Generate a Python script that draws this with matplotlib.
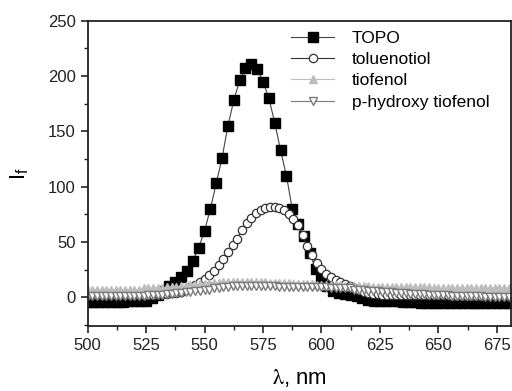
import matplotlib.pyplot as plt
from matplotlib.ticker import MultipleLocator

# emission wavelengths (nm)
wl_topo = [500, 502.5, 505, 507.5, 510, 512.5, 515, 517.5, 520, 522.5, 525,
           527.5, 530, 532.5, 535, 537.5, 540, 542.5, 545, 547.5,
           550, 552.5, 555, 557.5, 560, 562.5, 565, 567.5, 570,
           572.5, 575, 577.5, 580, 582.5, 585, 587.5, 590, 592.5,
           595, 597.5, 600, 602.5, 605, 607.5, 610, 612.5, 615,
           617.5, 620, 622.5, 625, 627.5, 630, 632.5, 635, 637.5, 640,
           642.5, 645, 647.5, 650, 652.5, 655, 657.5, 660, 662.5, 665,
           667.5, 670, 672.5, 675, 677.5, 680]
wl_fine = [500, 502, 504, 506, 508, 510, 512, 514, 516, 518, 520, 522, 524, 526, 528, 530,
           532, 534, 536, 538, 540, 542, 544, 546, 548, 550, 552, 554, 556, 558,
           560, 562, 564, 566, 568, 570, 572, 574, 576, 578, 580, 582, 584, 586, 588, 590,
           592, 594, 596, 598, 600, 602, 604, 606, 608, 610, 612, 614, 616, 618, 620,
           622, 624, 626, 628, 630,
           632, 634, 636, 638, 640, 642, 644, 646, 648, 650, 652, 654, 656, 658, 660,
           662, 664, 666, 668, 670, 672, 674, 676, 678, 680]

# fluorescence intensity, I_f
topo = [-4, -4, -4, -4, -4, -4, -4, -3.5, -3.5, -3, -3,
        -1, 2, 6, 10, 14, 18, 24, 33, 45,
        60, 80, 103, 126, 155, 178, 196, 207, 211,
        206, 195, 180, 158, 133, 110, 80, 66, 55,
        40, 26, 16, 10, 6, 4, 3, 2, 1,
        -1, -2, -3, -3.5, -3.5, -3.5, -3.5, -4, -4, -4.5,
        -5, -5, -5, -5, -5, -5, -5, -5, -5, -5, -5, -5, -5, -5, -5, -5]
toluenotiol = [2, 2, 2, 2, 2, 2, 2, 2, 2, 2, 2, 2, 2, 2, 2, 3,
               3, 3, 4, 4, 5, 7, 9, 11, 14, 17, 20, 24, 29, 35,
               41, 47, 53, 61, 67, 72, 76, 79, 81, 82, 82, 81, 79, 75, 71, 65,
               56, 46, 38, 31, 26, 21, 18, 16, 14, 12, 10, 8, 7, 5, 4,
               3, 3, 2, 2, 2,
               2, 2, 2, 2, 2, 2, 2, 2, 2, 2, 2, 2, 1, 1, 1, 1, 1, 1, 1, 1, 1, 1, 1, 1, 1]
tiofenol = [7, 7, 7, 7, 7, 7, 7, 7, 7, 7, 7, 7, 8, 8, 8, 8,
            8, 9, 9, 9, 10, 10, 11, 11, 12, 12, 13, 13, 13, 14,
            14, 14, 14, 14, 14, 14, 14, 14, 14, 13, 13, 13, 13, 13, 12, 12,
            12, 12, 12, 11, 11, 11, 11, 11, 11, 10, 10, 10, 10, 10, 10,
            9, 9, 9, 9, 9,
            9, 9, 9, 9, 9, 9, 9, 9, 8, 8, 8, 8, 8, 8, 8, 8, 8, 8, 8, 8, 8, 8, 8, 8, 8]
p_hydroxy = [1, 1, 1, 1, 1, 1, 1, 1, 1, 1, 1, 1, 1, 2, 2, 2,
             2, 3, 3, 4, 4, 5, 5, 6, 6, 7, 7, 8, 8, 9,
             9, 10, 10, 10, 10, 10, 10, 10, 10, 10, 10, 9, 9, 9, 9, 9,
             9, 9, 9, 9, 9, 9, 8, 8, 8, 8, 8, 7, 7, 7, 6,
             6, 6, 5, 5, 5,
             4, 4, 4, 3, 3, 3, 3, 2, 2, 2, 2, 2, 1, 1, 1, 1, 1, 1, 1, 0, 0, 0, 0, 0, 0]

plt.rcParams["font.family"] = ["Liberation Sans", "DejaVu Sans"]
plt.rcParams["mathtext.fontset"] = "stix"

fig = plt.figure(figsize=(5.12, 3.91), dpi=100)
ax = fig.add_axes([0.171, 0.166, 0.827, 0.781])

ax.plot(wl_topo, topo, "-s", color="#444444", lw=0.8, mfc="black", mec="black",
        ms=6.5, label="TOPO")
ax.plot(wl_fine, toluenotiol, "-o", color="#333333", lw=0.8, mfc="white", mec="#333333",
        mew=0.9, ms=6, label="toluenotiol")
ax.plot(wl_fine, tiofenol, "-^", color="#bdbdbd", lw=0.8, mfc="#bdbdbd", mec="#bdbdbd",
        ms=5.5, label="tiofenol")
ax.plot(wl_fine, p_hydroxy, "-v", color="#7a7a7a", lw=0.8, mfc="white", mec="#7a7a7a",
        mew=1.0, ms=5.5, label="p-hydroxy tiofenol")

ax.set_xlim(500, 681)
ax.set_ylim(-26, 250)
ax.xaxis.set_major_locator(MultipleLocator(25))
ax.xaxis.set_minor_locator(MultipleLocator(12.5))
ax.yaxis.set_major_locator(MultipleLocator(50))
ax.yaxis.set_minor_locator(MultipleLocator(25))
ax.tick_params(which="major", length=5, width=1.2, labelsize=12, colors="#222222")
ax.tick_params(which="minor", length=3, width=1.0, colors="#222222")
for s in ax.spines.values():
    s.set_linewidth(1.3)
    s.set_color("#222222")

ax.set_xlabel(r"$\mathrm{\lambda}$, nm", fontsize=16, labelpad=10)
ax.set_ylabel(r"$\mathregular{I_f}$", fontsize=16, labelpad=12)

ax.legend(loc="upper left", bbox_to_anchor=(0.468, 0.985), frameon=False, fontsize=12.5,
          handlelength=2.5, handletextpad=1.0, labelspacing=0.36, borderaxespad=0.0,
          borderpad=0.3)

fig.savefig("out.png", dpi=100)
